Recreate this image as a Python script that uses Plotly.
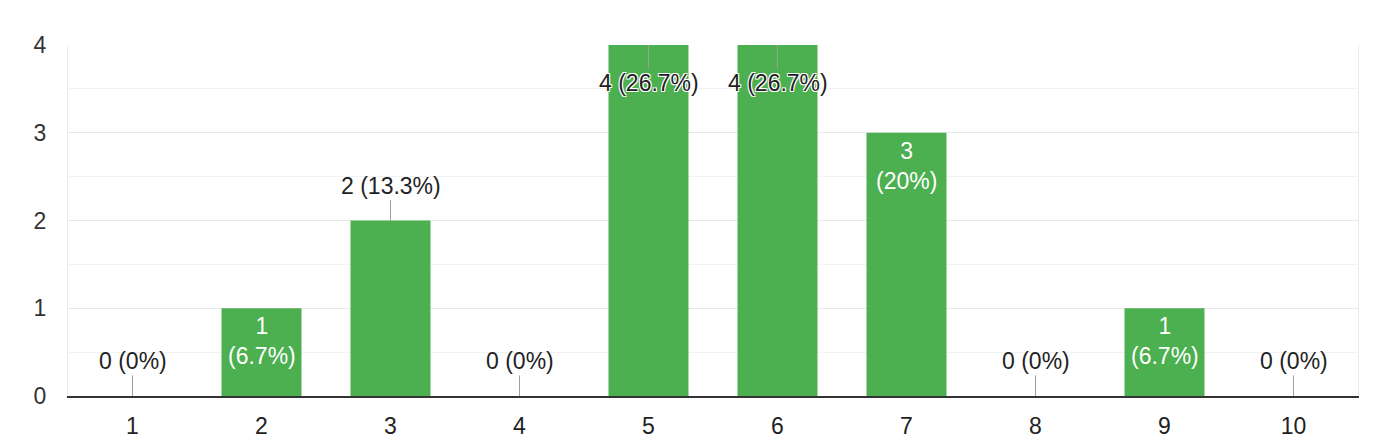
import plotly.graph_objects as go

categories = ["1", "2", "3", "4", "5", "6", "7", "8", "9", "10"]
counts = [0, 1, 2, 0, 4, 4, 3, 0, 1, 0]

# label placement style per category: "above" (leader line up), "inside" (white text), "halo" (dark text with halo inside, leader line)
label_modes = ["above", "inside", "above", "above", "halo", "halo", "inside", "above", "inside", "above"]

total = sum(counts)

def pct(v):
    p = round(100 * v / total, 1)
    s = f"{p:.1f}"
    if s.endswith(".0"):
        s = s[:-2]
    return s + "%"

FONT = "Liberation Sans, Arial, sans-serif"
GREEN = "#4caf50"
TXT = "#222222"
LEAD = "#9e9e9e"
FS = 23

fig = go.Figure()
fig.add_trace(go.Bar(x=categories, y=counts, marker=dict(color=GREEN, line=dict(width=0)),
                     width=0.62, hoverinfo="skip"))

annotations = []
for i, (c, v, m) in enumerate(zip(categories, counts, label_modes)):
    if m == "above":
        annotations.append(dict(x=i, y=v, xref="x", yref="y", text=f"{v} ({pct(v)})",
                                showarrow=True, arrowhead=0, arrowwidth=1, arrowcolor=LEAD,
                                ax=0, ay=-35, font=dict(family=FONT, size=FS, color=TXT)))
    elif m == "halo":
        halo = "white 1px 1px 0px, white -1px -1px 0px, white 1px -1px 0px, white -1px 1px 0px"
        annotations.append(dict(x=i, y=v, xref="x", yref="y", text=f"{v} ({pct(v)})",
                                showarrow=True, arrowhead=0, arrowwidth=1, arrowcolor=LEAD,
                                ax=0, ay=38, font=dict(family=FONT, size=FS, color=TXT, shadow=halo)))
    else:
        annotations.append(dict(x=i, y=v, xref="x", yref="y", text=f"{v}<br>({pct(v)})",
                                showarrow=False, yanchor="top", yshift=-3,
                                font=dict(family=FONT, size=FS, color="white")))

fig.update_layout(
    width=1400, height=448,
    margin=dict(l=60, r=50, t=37, b=60),
    paper_bgcolor="white", plot_bgcolor="white",
    showlegend=False,
    annotations=annotations,
    font=dict(family=FONT, size=FS, color="#333333"),
    xaxis=dict(type="category", showgrid=False, showline=True, linecolor="#333333", linewidth=2,
               ticks="", ticklabelstandoff=8, tickfont=dict(size=FS, color="#222222"),
               zeroline=False, fixedrange=True),
    yaxis=dict(range=[0, 4], dtick=1, tick0=0, showgrid=True, gridcolor="#e8e8e8", gridwidth=1,
               minor=dict(dtick=0.5, showgrid=True, gridcolor="#f2f2f2", gridwidth=1),
               zeroline=False, showline=True, mirror=True, linecolor="#ebebeb", linewidth=1,
               ticks="", ticklabelstandoff=16, tickfont=dict(size=FS, color="#333333"), fixedrange=True),
)

fig.write_html("out.html")
